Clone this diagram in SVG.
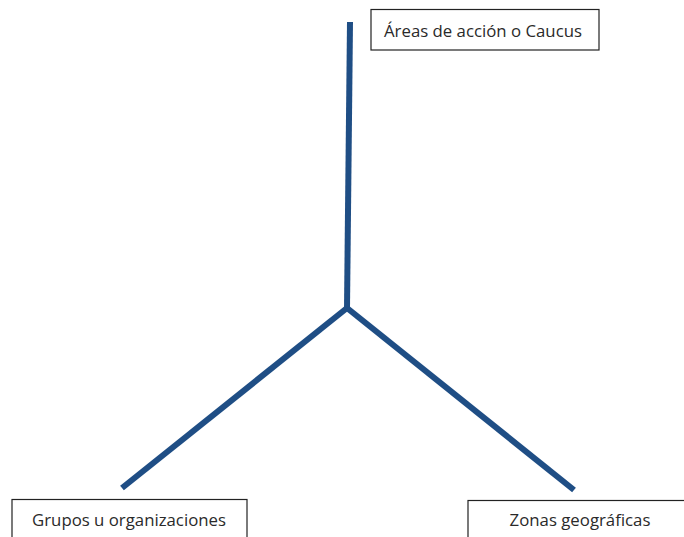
<svg xmlns="http://www.w3.org/2000/svg" width="684" height="537" viewBox="0 0 684 537">
<style>
.box{fill:#fff;stroke:#222;stroke-width:1.2}
.lbl{font-family:"Open Sans","Liberation Sans",sans-serif;font-size:16.8px;fill:#2a2a2a;text-anchor:middle}
.conn{stroke:#1f4e85;stroke-width:6;fill:none;stroke-linecap:butt;stroke-linejoin:miter}
</style>
<rect width="684" height="537" fill="#fff"/>
<g id="connectors">
<path class="conn" d="M350,22 L347,308"/>
<path class="conn" d="M347,308 L122,488"/>
<path class="conn" d="M347,308 L574,490"/>
</g>
<g id="node-areas">
<rect class="box" x="371" y="9.5" width="228" height="40.5"/>
<text class="lbl" x="483" y="37">Áreas de acción o Caucus</text>
</g>
<g id="node-grupos">
<rect class="box" x="12" y="499.5" width="235" height="45"/>
<text class="lbl" x="129" y="526">Grupos u organizaciones</text>
</g>
<g id="node-zonas">
<rect class="box" x="468" y="500.5" width="222" height="45"/>
<text class="lbl" x="580" y="526">Zonas geográficas</text>
</g>
</svg>
